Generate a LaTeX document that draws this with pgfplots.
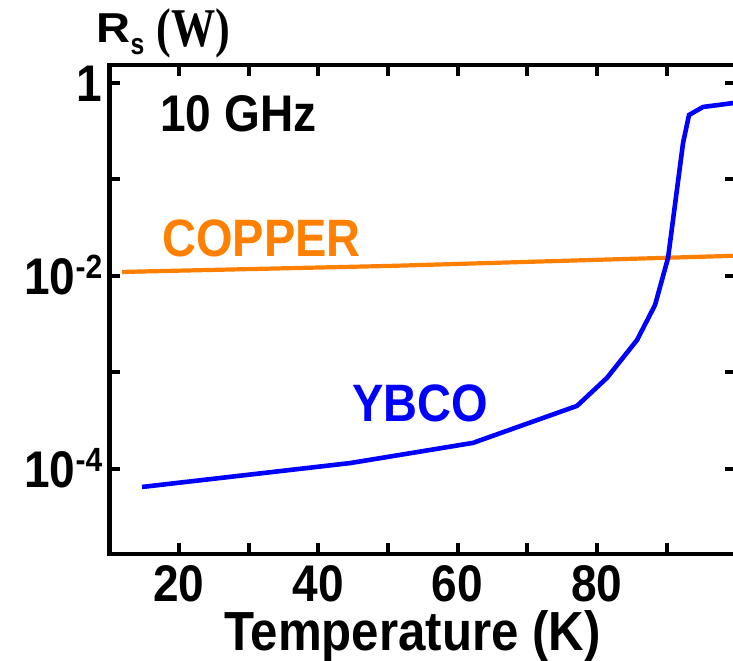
\documentclass[border=0pt]{standalone}
\usepackage{fontspec}
\setmainfont{Liberation Sans}
\newfontfamily\serifW{Liberation Serif}
\usepackage{graphicx}
\usepackage{pgfplots}
\pgfplotsset{compat=1.18}
\definecolor{cuorange}{RGB}{255,128,0}
\definecolor{ybblue}{RGB}{0,0,255}
\newcommand{\tl}{\fontsize{23}{23}\selectfont\bfseries}
\newcommand{\st}[1]{\scalebox{1}[1.12]{#1}}
\newcommand{\supx}[1]{\raisebox{7pt}{\fontsize{15}{15}\selectfont\bfseries #1}}
\begin{document}
\begin{tikzpicture}
\begin{axis}[name=ax, scale only axis, width=313.5pt, height=244.5pt,
  ymode=log, xmin=10, xmax=100, ymin=1.315e-5, ymax=1.536,
  xtick={20,30,40,50,60,70,80,90},
  xticklabels={\st{20},,\st{40},,\st{60},,\st{80},},
  ytick={1e-4,1e-3,1e-2,1e-1,1},
  yticklabels={\st{10\supx{-4}},,\st{10\supx{-2}},,\st{1}},
  yminorticks=false, xminorticks=false,
  axis line style={line width=2.4pt},
  major tick length=5.5pt,
  every tick/.style={black, line width=2pt},
  tick align=inside,
  ticklabel style={font=\tl},
  yticklabel style={anchor=base east, yshift=-9.2pt},
  xticklabel style={anchor=base, inner sep=0pt, yshift=-23.6pt},
  clip=true,
]
\addplot[color=cuorange, line width=2.1pt] coordinates {
(11.8,0.0110) (50.3,0.0127) (100,0.0162)};
\addplot[color=ybblue, line width=2.3pt] coordinates {
(14.7,6.5e-5) (44.6,1.15e-4) (62.2,1.86e-4) (77.15,4.5e-4) (81.46,8.8e-4)
(85.77,2.17e-3) (88.35,5.0e-3) (90.22,1.54e-2) (92.37,0.239) (93.23,0.466)
(95.24,0.564) (100,0.625)};
\end{axis}
\node[anchor=base west, inner sep=0] at ([shift={(-6.5pt,11pt)}]ax.north west)
  {\fontsize{22}{22}\selectfont\bfseries\scalebox{1.07}[0.95]{R}\raisebox{-6pt}{\scalebox{0.95}[1.15]{\fontsize{13}{13}\selectfont\bfseries s}}\hspace{6pt}\raisebox{-2pt}{\scalebox{0.85}[1.05]{\serifW\fontsize{26}{26}\selectfont\bfseries (W)}}};
\node[anchor=base west, inner sep=0] at ([shift={(25.35pt,-33.5pt)}]ax.north west)
  {\fontsize{23}{23}\selectfont\bfseries\st{10 GHz}};
\node[anchor=base west, inner sep=0, text=cuorange] at ([shift={(26.35pt,-96pt)}]ax.north west)
  {\fontsize{23.5}{23.5}\selectfont\bfseries\st{COPPER}};
\node[anchor=base west, inner sep=0, text=ybblue] at ([shift={(121.35pt,-178.5pt)}]ax.north west)
  {\fontsize{23.5}{23.5}\selectfont\bfseries\st{YBCO}};
\node[anchor=base west, inner sep=0] at ([shift={(57.35pt,-293pt)}]ax.north west)
  {\fontsize{24.6}{24.6}\selectfont\bfseries\st{Temperature (K)}};
\pgfresetboundingbox
\useasboundingbox ([shift={(-54.65pt,-53.5pt)}]ax.south west) rectangle ([shift={(-1.6pt,32.5pt)}]ax.north east);
\end{tikzpicture}
\end{document}
